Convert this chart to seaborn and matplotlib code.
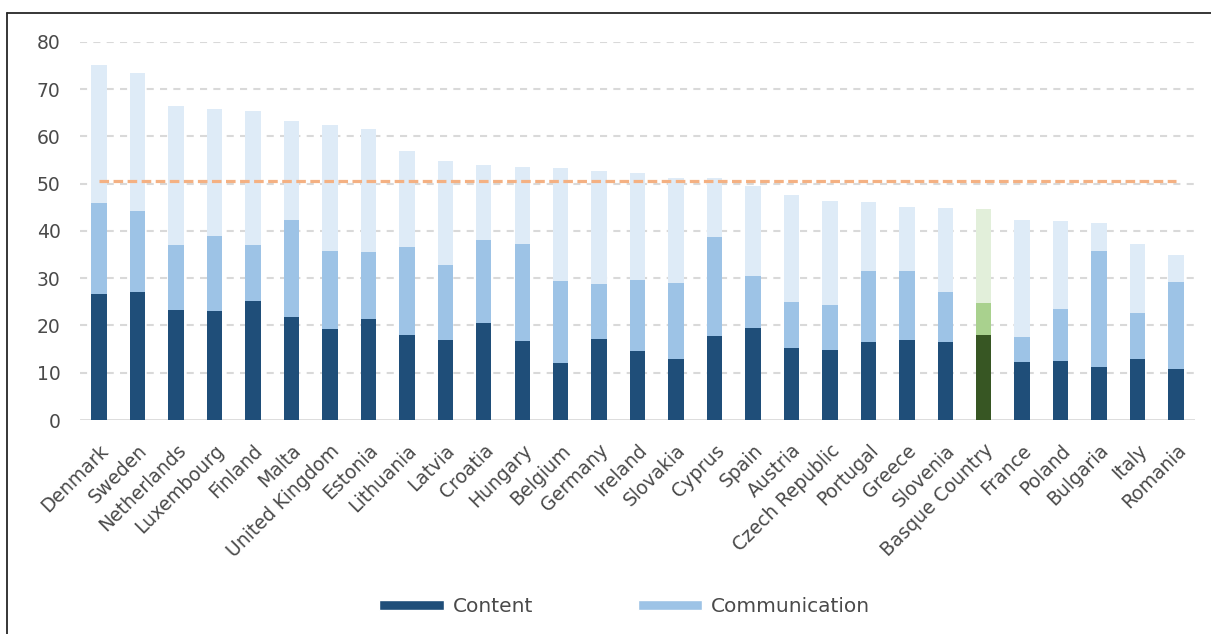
import pandas as pd
import matplotlib.pyplot as plt
import seaborn as sns
from matplotlib.patches import Patch
from matplotlib.lines import Line2D

# values (stacked segments)
countries = ['Denmark', 'Sweden', 'Netherlands', 'Luxembourg', 'Finland', 'Malta',
             'United Kingdom', 'Estonia', 'Lithuania', 'Latvia', 'Croatia', 'Hungary',
             'Belgium', 'Germany', 'Ireland', 'Slovakia', 'Cyprus', 'Spain', 'Austria',
             'Czech Republic', 'Portugal', 'Greece', 'Slovenia', 'Basque Country',
             'France', 'Poland', 'Bulgaria', 'Italy', 'Romania']
content = [26.6, 27.1, 23.3, 23.0, 25.2, 21.8, 19.2, 21.4, 17.9, 16.9, 20.5, 16.7,
           12.1, 17.1, 14.6, 12.8, 17.8, 19.5, 15.2, 14.9, 16.6, 16.9, 16.6, 18.0,
           12.2, 12.5, 11.2, 12.8, 10.7]
communication = [19.3, 17.2, 13.7, 15.9, 11.9, 20.5, 16.6, 14.1, 18.7, 15.9, 17.5, 20.5,
                 17.2, 11.6, 15.0, 16.2, 20.9, 10.9, 9.8, 9.4, 14.9, 14.6, 10.5, 6.7,
                 5.3, 11.0, 24.5, 9.8, 18.5]
transactions = [29.2, 29.1, 29.4, 26.9, 28.2, 20.9, 26.6, 26.0, 20.2, 21.9, 16.0, 16.4,
                24.0, 24.0, 22.6, 22.2, 12.5, 19.0, 22.5, 22.1, 14.7, 13.6, 17.7, 19.9,
                24.7, 18.5, 6.0, 14.6, 5.7]
eu_average = 50.5
highlight = 'Basque Country'

df = pd.DataFrame({'country': countries, 'content': content,
                   'communication': communication, 'transactions': transactions})
df['comm_top'] = df['content'] + df['communication']
df['total'] = df['comm_top'] + df['transactions']

dark, mid, light = '#1F4E79', '#9DC3E6', '#DEEBF7'
g_dark, g_mid, g_light = '#375623', '#A9D18E', '#E2EFDA'


def pal(normal, special):
    return {c: (special if c == highlight else normal) for c in countries}


sns.set_style('white')
plt.rcParams['font.family'] = ['DejaVu Sans']
text_col = '#4a4a4a'
fs = 13.5

fig = plt.figure(figsize=(12.11, 6.34), dpi=100)
ax = fig.add_axes([0.066, 0.3375, 0.921, 0.5967])

# grid behind the bars
for v in range(10, 90, 10):
    ax.axhline(v, color='#D9D9D9', lw=1.5, ls=(0, (3.4, 3.0)), zorder=0)
ax.axhline(0, color='#D9D9D9', lw=2, zorder=0.5)

# layered bars: total, then content+communication, then content
for col, colours in [('total', (light, g_light)),
                     ('comm_top', (mid, g_mid)),
                     ('content', (dark, g_dark))]:
    sns.barplot(data=df, x='country', y=col, hue='country', palette=pal(*colours),
                legend=False, width=0.4, saturation=1, linewidth=0, ax=ax, zorder=2)

ax.hlines(eu_average, 0, len(countries) - 1, colors='#F4B183', lw=2.3,
          linestyles=(0, (3.0, 1.4)), zorder=3)

ax.set_ylim(0, 80)
ax.set_xlim(-0.5, len(countries) - 0.5)
ax.set_yticks(range(0, 90, 10))
ax.set_xlabel('')
ax.set_ylabel('')
sns.despine(ax=ax, left=True, bottom=True)
ax.tick_params(axis='y', length=0, pad=14, labelsize=fs, labelcolor=text_col)
ax.tick_params(axis='x', length=0, pad=15, labelsize=fs, labelcolor=text_col)
plt.setp(ax.get_xticklabels(), rotation=45, ha='right', va='top', rotation_mode='anchor')

handles = [Patch(facecolor=dark, label='Content'),
           Patch(facecolor=mid, label='Communication')]
fig.legend(handles=handles, loc='center', bbox_to_anchor=(0.516, 0.043), ncol=2,
           frameon=False, fontsize=14.5, labelcolor=text_col, handlelength=3.2,
           handleheight=0.4, handletextpad=0.45, columnspacing=5.2)

# frame lines at top and left of the picture
fig.add_artist(Line2D([0.0058, 1.0], [0.98, 0.98], color='#262626', lw=1.3))
fig.add_artist(Line2D([0.0058, 0.0058], [0.0, 0.98], color='#262626', lw=1.3))

plt.savefig('out.png', dpi=100)
